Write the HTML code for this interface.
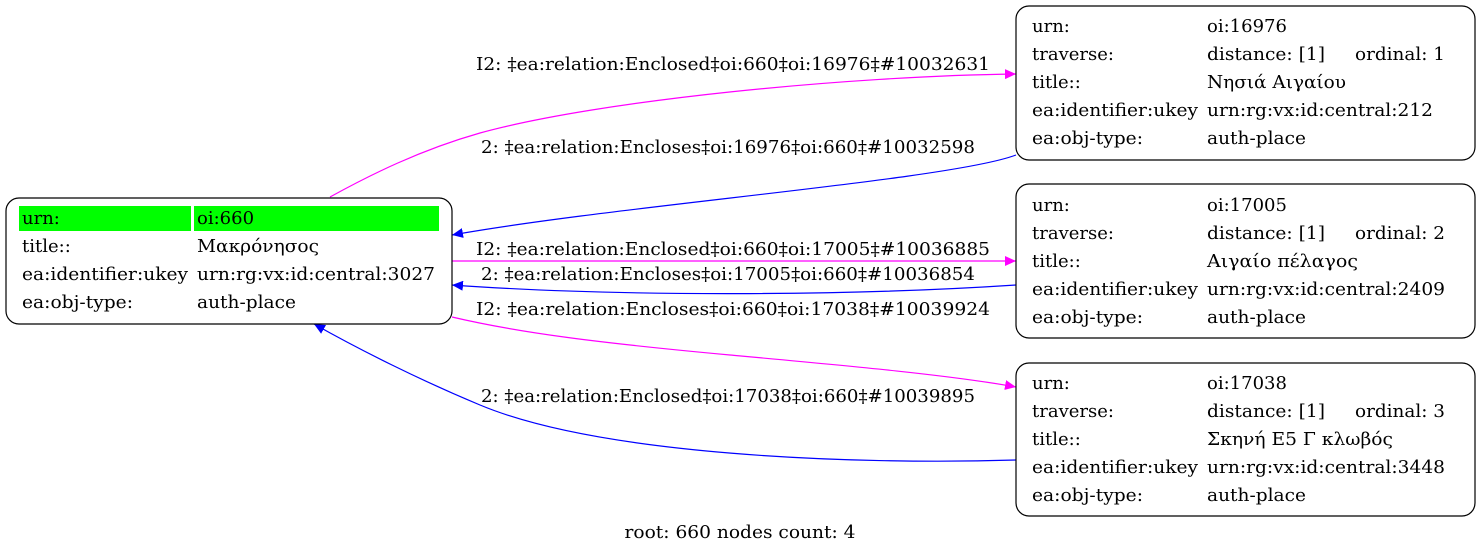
<!DOCTYPE html>
<html><head><meta charset="utf-8"><style>
html,body{margin:0;padding:0;background:#fff}
svg{display:block}
text{font-family:"DejaVu Serif","Liberation Serif",serif;font-size:18px;fill:#000}
</style></head><body>
<svg width="1480" height="553" viewBox="0 0 1480 553" xmlns="http://www.w3.org/2000/svg">
<defs>
<marker id="am" markerWidth="12" markerHeight="10" refX="11" refY="5" orient="auto" markerUnits="userSpaceOnUse"><path d="M0,0 L11,5 L0,10 Z" fill="#f0f"/></marker>
<marker id="ab" markerWidth="12" markerHeight="10" refX="11" refY="5" orient="auto" markerUnits="userSpaceOnUse"><path d="M0,0 L11,5 L0,10 Z" fill="#00f"/></marker>
</defs>
<path d="M330,197 C370,175 420,150 480,133 C600,100 850,76 1016,74" fill="none" stroke="#f0f" stroke-width="1.2" marker-end="url(#am)"/>
<path d="M1016,155 C950,180 620,205 452,235" fill="none" stroke="#00f" stroke-width="1.2" marker-end="url(#ab)"/>
<path d="M452,261 L1016,261" fill="none" stroke="#f0f" stroke-width="1.2" marker-end="url(#am)"/>
<path d="M1016,285 C850,296 620,297 452,285" fill="none" stroke="#00f" stroke-width="1.2" marker-end="url(#ab)"/>
<path d="M452,317 C520,333 600,343 730,355 C850,366 950,375 1016,387" fill="none" stroke="#f0f" stroke-width="1.2" marker-end="url(#am)"/>
<path d="M1016,460 C850,465 600,455 480,405 C420,380 360,350 314,324" fill="none" stroke="#00f" stroke-width="1.2" marker-end="url(#ab)"/>
<text x="476" y="70" textLength="514" lengthAdjust="spacingAndGlyphs">I2: ‡ea:relation:Enclosed‡oi:660‡oi:16976‡#10032631</text>
<text x="481" y="153" textLength="494" lengthAdjust="spacingAndGlyphs">2: ‡ea:relation:Encloses‡oi:16976‡oi:660‡#10032598</text>
<text x="476" y="255" textLength="514" lengthAdjust="spacingAndGlyphs">I2: ‡ea:relation:Enclosed‡oi:660‡oi:17005‡#10036885</text>
<text x="481" y="280" textLength="494" lengthAdjust="spacingAndGlyphs">2: ‡ea:relation:Encloses‡oi:17005‡oi:660‡#10036854</text>
<text x="476" y="315" textLength="514" lengthAdjust="spacingAndGlyphs">I2: ‡ea:relation:Encloses‡oi:660‡oi:17038‡#10039924</text>
<text x="481" y="402" textLength="494" lengthAdjust="spacingAndGlyphs">2: ‡ea:relation:Enclosed‡oi:17038‡oi:660‡#10039895</text>
<rect x="6" y="198" width="446" height="126" rx="13" fill="#fff" stroke="#000" stroke-width="1.2"/>
<rect x="19" y="206" width="172" height="25" fill="#0f0"/>
<rect x="194" y="206" width="245" height="25" fill="#0f0"/>
<text x="22" y="224">urn:</text><text x="197" y="224">oi:660</text>
<text x="22" y="252">title::</text><text x="197" y="252" textLength="122" lengthAdjust="spacingAndGlyphs">Μακρόνησος</text>
<text x="22" y="280" textLength="166" lengthAdjust="spacingAndGlyphs">ea:identifier:ukey</text><text x="197" y="280" textLength="238" lengthAdjust="spacingAndGlyphs">urn:rg:vx:id:central:3027</text>
<text x="22" y="308" textLength="111" lengthAdjust="spacingAndGlyphs">ea:obj-type:</text><text x="197" y="308" textLength="99" lengthAdjust="spacingAndGlyphs">auth-place</text>
<rect x="1016" y="6" width="459" height="154" rx="13" fill="#fff" stroke="#000" stroke-width="1.2"/>
<text x="1032" y="32">urn:</text><text x="1207" y="32">oi:16976</text>
<text x="1032" y="60">traverse:</text><text x="1207" y="60" textLength="118" lengthAdjust="spacingAndGlyphs">distance: [1]</text><text x="1355" y="60" textLength="90" lengthAdjust="spacingAndGlyphs">ordinal: 1</text>
<text x="1032" y="88">title::</text><text x="1207" y="88" textLength="139" lengthAdjust="spacingAndGlyphs">Νησιά Αιγαίου</text>
<text x="1032" y="116" textLength="166" lengthAdjust="spacingAndGlyphs">ea:identifier:ukey</text><text x="1207" y="116" textLength="226" lengthAdjust="spacingAndGlyphs">urn:rg:vx:id:central:212</text>
<text x="1032" y="144" textLength="111" lengthAdjust="spacingAndGlyphs">ea:obj-type:</text><text x="1207" y="144" textLength="99" lengthAdjust="spacingAndGlyphs">auth-place</text>
<rect x="1016" y="184" width="459" height="154" rx="13" fill="#fff" stroke="#000" stroke-width="1.2"/>
<text x="1032" y="211">urn:</text><text x="1207" y="211">oi:17005</text>
<text x="1032" y="239">traverse:</text><text x="1207" y="239" textLength="118" lengthAdjust="spacingAndGlyphs">distance: [1]</text><text x="1355" y="239" textLength="90" lengthAdjust="spacingAndGlyphs">ordinal: 2</text>
<text x="1032" y="267">title::</text><text x="1207" y="267" textLength="151" lengthAdjust="spacingAndGlyphs">Αιγαίο πέλαγος</text>
<text x="1032" y="295" textLength="166" lengthAdjust="spacingAndGlyphs">ea:identifier:ukey</text><text x="1207" y="295" textLength="238" lengthAdjust="spacingAndGlyphs">urn:rg:vx:id:central:2409</text>
<text x="1032" y="323" textLength="111" lengthAdjust="spacingAndGlyphs">ea:obj-type:</text><text x="1207" y="323" textLength="99" lengthAdjust="spacingAndGlyphs">auth-place</text>
<rect x="1016" y="363" width="459" height="153" rx="13" fill="#fff" stroke="#000" stroke-width="1.2"/>
<text x="1032" y="389">urn:</text><text x="1207" y="389">oi:17038</text>
<text x="1032" y="417">traverse:</text><text x="1207" y="417" textLength="118" lengthAdjust="spacingAndGlyphs">distance: [1]</text><text x="1355" y="417" textLength="90" lengthAdjust="spacingAndGlyphs">ordinal: 3</text>
<text x="1032" y="445">title::</text><text x="1207" y="445" textLength="186" lengthAdjust="spacingAndGlyphs">Σκηνή Ε5 Γ κλωβός</text>
<text x="1032" y="473" textLength="166" lengthAdjust="spacingAndGlyphs">ea:identifier:ukey</text><text x="1207" y="473" textLength="238" lengthAdjust="spacingAndGlyphs">urn:rg:vx:id:central:3448</text>
<text x="1032" y="501" textLength="111" lengthAdjust="spacingAndGlyphs">ea:obj-type:</text><text x="1207" y="501" textLength="99" lengthAdjust="spacingAndGlyphs">auth-place</text>
<text x="740" y="538" text-anchor="middle" textLength="231" lengthAdjust="spacingAndGlyphs">root: 660 nodes count: 4</text>
</svg>
</body></html>
